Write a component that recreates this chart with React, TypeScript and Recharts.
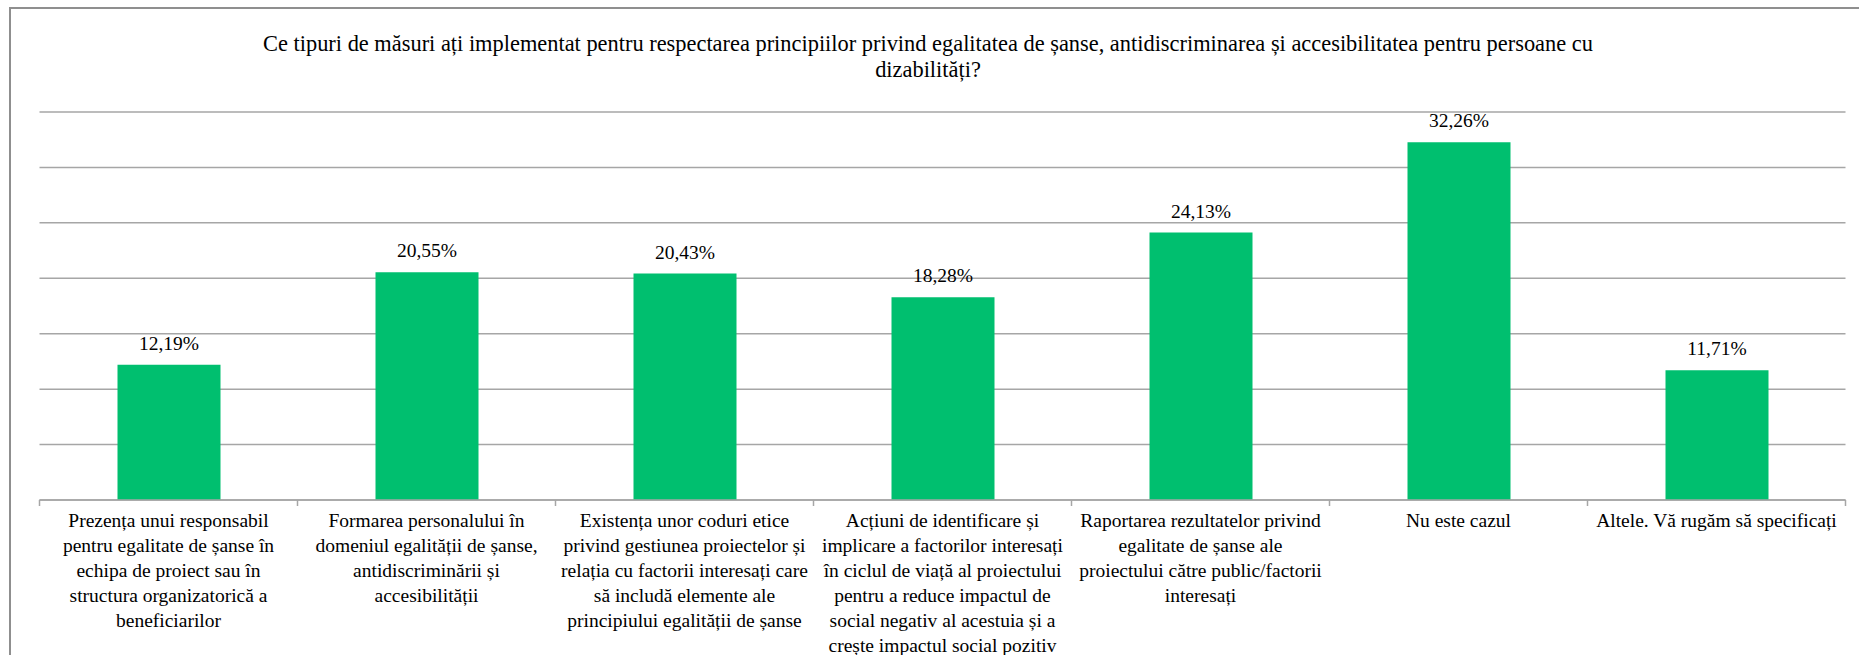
import React from 'react';
import { BarChart, Bar, XAxis, YAxis, CartesianGrid, LabelList } from 'recharts';

const categories: string[] = [
  'Prezența unui responsabil\npentru egalitate de șanse în\nechipa de proiect sau în\nstructura organizatorică a\nbeneficiarilor',
  'Formarea personalului în\ndomeniul egalității de șanse,\nantidiscriminării și\naccesibilității',
  'Existența unor coduri etice\nprivind gestiunea proiectelor și\nrelația cu factorii interesați care\nsă includă elemente ale\nprincipiului egalității de șanse',
  'Acțiuni de identificare și\nimplicare a factorilor interesați\nîn ciclul de viață al proiectului\npentru a reduce impactul de\nsocial negativ al acestuia și a\ncrește impactul social pozitiv',
  'Raportarea rezultatelor privind\negalitate de șanse ale\nproiectului către public/factorii\ninteresați',
  'Nu este cazul',
  'Altele. Vă rugăm să specificați',
];

const values: number[] = [12.19, 20.55, 20.43, 18.28, 24.13, 32.26, 11.71];

const yTicks: number[] = [0, 5, 10, 15, 20, 25, 30, 35];

const titleLines: string[] = [
  'Ce tipuri de măsuri ați implementat pentru respectarea principiilor privind egalitatea de șanse, antidiscriminarea și accesibilitatea pentru persoane cu',
  'dizabilități?',
];

const data = categories.map((name, i) => ({ name, value: values[i] }));

const W = 1859;
const H = 655;
const FONT = '"Liberation Serif", "Times New Roman", serif';
const BAR_COLOR = '#00BF6F';
const GRID_COLOR = '#a6a6a6';

const fmt = (v: number) => v.toFixed(2).replace('.', ',') + '%';

function CategoryTick(props: any) {
  const { x, y, payload, index, width, visibleTicksCount } = props;
  const n = visibleTicksCount || categories.length;
  const band = (width || 1806) / n;
  const lines = String(payload.value).split('\n');
  const left = x - band / 2;
  const right = x + band / 2;
  return (
    <g>
      <line x1={left} x2={left} y1={y} y2={y + 6} stroke={GRID_COLOR} strokeWidth={1.5} />
      {index === n - 1 && (
        <line x1={right} x2={right} y1={y} y2={y + 6} stroke={GRID_COLOR} strokeWidth={1.5} />
      )}
      <text x={x} y={y + 27} textAnchor="middle" fontFamily={FONT} fontSize={19.5} fill="#000">
        {lines.map((l, i) => (
          <tspan key={i} x={x} dy={i === 0 ? 0 : 24.9}>
            {l}
          </tspan>
        ))}
      </text>
    </g>
  );
}

function ValueLabel(props: any) {
  const { x, y, width, value } = props;
  return (
    <text
      x={Number(x) + Number(width) / 2}
      y={Number(y) - 15}
      textAnchor="middle"
      fontFamily={FONT}
      fontSize={19.5}
      fill="#000"
    >
      {fmt(Number(value))}
    </text>
  );
}

export default function App() {
  return (
    <div style={{ position: 'fixed', left: 0, top: 0, width: W, height: H, overflow: 'hidden', background: '#fff' }}>
      <div
        style={{
          position: 'absolute',
          left: 9,
          top: 7,
          width: 1900,
          height: 700,
          border: '2px solid #8f8f8f',
          boxSizing: 'border-box',
        }}
      />
      <div style={{ position: 'absolute', left: 0, top: 0 }}>
        <BarChart
          width={W}
          height={H}
          data={data}
          margin={{ top: 112, right: 13.5, bottom: 0, left: 39.5 }}
        >
          <CartesianGrid horizontal vertical={false} stroke={GRID_COLOR} strokeWidth={1.5} />
          <YAxis hide domain={[0, 35]} ticks={yTicks} type="number" />
          <XAxis
            dataKey="name"
            height={155}
            interval={0}
            tickLine={false}
            tickSize={0}
            tickMargin={0}
            axisLine={{ stroke: GRID_COLOR, strokeWidth: 1.5 }}
            tick={<CategoryTick />}
          />
          <Bar dataKey="value" fill={BAR_COLOR} barSize={103} isAnimationActive={false}>
            <LabelList dataKey="value" content={<ValueLabel />} />
          </Bar>
        </BarChart>
      </div>
      <div
        style={{
          position: 'absolute',
          left: 0,
          top: 31,
          width: 1856,
          textAlign: 'center',
          fontFamily: FONT,
          fontSize: 22.4,
          lineHeight: '26px',
          color: '#000',
          whiteSpace: 'nowrap',
        }}
      >
        {titleLines.map((t, i) => (
          <div key={i}>{t}</div>
        ))}
      </div>
    </div>
  );
}
